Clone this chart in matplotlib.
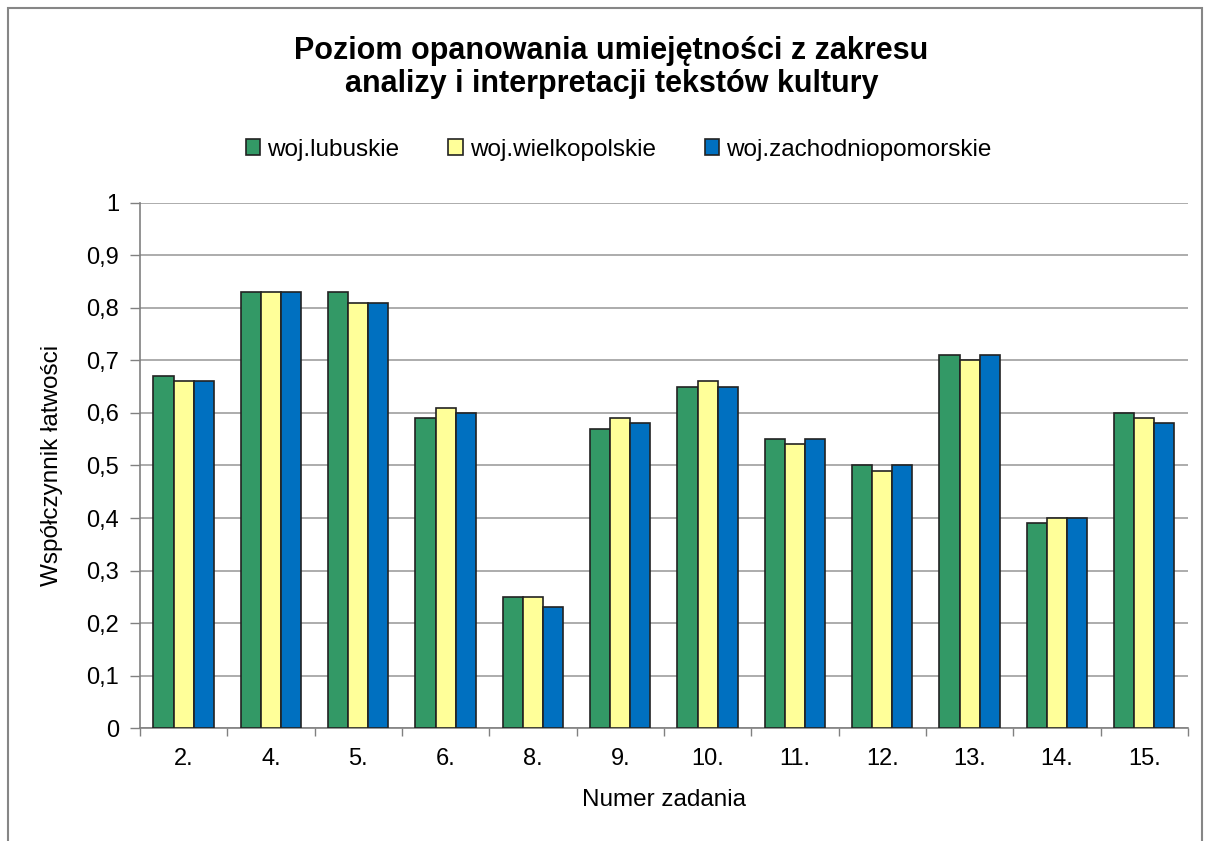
import numpy as np
import matplotlib
matplotlib.use('Agg')
import matplotlib.pyplot as plt
from matplotlib.patches import Rectangle

plt.rcParams['font.family'] = ['Liberation Sans', 'DejaVu Sans']

zadania = ['2.', '4.', '5.', '6.', '8.', '9.', '10.', '11.', '12.', '13.', '14.', '15.']
lubuskie = [0.67, 0.83, 0.83, 0.59, 0.25, 0.57, 0.65, 0.55, 0.50, 0.71, 0.39, 0.60]
wielkopolskie = [0.66, 0.83, 0.81, 0.61, 0.25, 0.59, 0.66, 0.54, 0.49, 0.70, 0.40, 0.59]
zachodniopomorskie = [0.66, 0.83, 0.81, 0.60, 0.23, 0.58, 0.65, 0.55, 0.50, 0.71, 0.40, 0.58]
serie = ['woj.lubuskie', 'woj.wielkopolskie', 'woj.zachodniopomorskie']
kolory = ['#339966', '#FFFF99', '#0070C0']

fig = plt.figure(figsize=(12.06, 8.41), dpi=100)
ax = fig.add_axes([0.116, 0.134, 0.869, 0.625])

x = np.arange(len(zadania))
w = 0.23
for i, (vals, lab, c) in enumerate(zip([lubuskie, wielkopolskie, zachodniopomorskie], serie, kolory)):
    ax.bar(x + (i - 1) * w, vals, w, color=c, edgecolor='#222222', linewidth=1.2, label=lab, zorder=3)

ax.set_xlim(-0.5, len(zadania) - 0.5)
ax.set_ylim(0, 1)
yt = np.arange(0, 1.01, 0.1)
ax.set_yticks(yt)
ax.set_yticklabels([('%g' % round(v, 1)).replace('.', ',') for v in yt], fontsize=17)
ax.yaxis.grid(True, color='#a6a6a6', linewidth=1.3, zorder=0)
ax.set_xticks(x)
ax.set_xticklabels(zadania, fontsize=17)
ax.set_xticks(np.arange(-0.5, len(zadania), 1), minor=True)
ax.tick_params(axis='x', which='major', length=0, pad=14)
ax.tick_params(axis='x', which='minor', length=6, color='#808080', width=1)
ax.tick_params(axis='y', length=7, color='#808080', width=1, pad=8)
for s in ['top', 'right']:
    ax.spines[s].set_visible(False)
for s in ['left', 'bottom']:
    ax.spines[s].set_color('#808080')
    ax.spines[s].set_linewidth(1.2)

ax.set_ylabel('Współczynnik łatwości', fontsize=17.5)
ax.yaxis.set_label_coords(-0.073, 0.5)
ax.set_xlabel('Numer zadania', fontsize=17.5)
ax.xaxis.set_label_coords(0.5, -0.115)

fig.text(0.507, 0.920, 'Poziom opanowania umiejętności z zakresu\nanalizy i interpretacji tekstów kultury',
         ha='center', va='center', fontsize=22, fontweight='bold', linespacing=1.15)

fig.legend(loc='center', bbox_to_anchor=(0.513, 0.822), ncol=3, frameon=False, fontsize=17.5,
           handlelength=0.6, handleheight=0.6, handletextpad=0.3, columnspacing=2.0)

fig.patches.append(Rectangle((0.007, -0.05), 0.99, 1.04, transform=fig.transFigure,
                             fill=False, edgecolor='#868686', linewidth=1.5))

fig.savefig('out.png', dpi=100)
